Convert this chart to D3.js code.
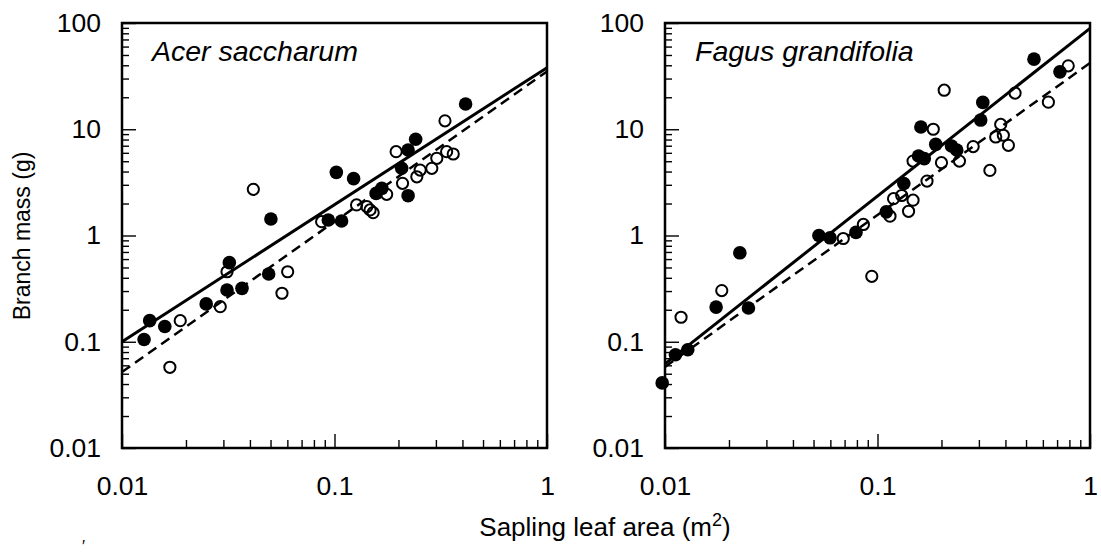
<!DOCTYPE html>
<html>
<head>
    <title>Branch mass vs sapling leaf area</title>
    <script src="https://d3js.org/d3.v7.min.js"></script>
    <style>
        body { margin: 0; background: #fff; }
        svg { display: block; font-family: "Liberation Sans", Arial, sans-serif; }
    </style>
</head>
<body>
    <svg id="chart" width="1101" height="554"></svg>

    <script>
        // ---- data (x = leaf area m2, y = branch mass g) ----
        const acerFilled = [
            [0.0127, 0.105], [0.0135, 0.158], [0.0159, 0.139], [0.0249, 0.227],
            [0.0312, 0.307], [0.032, 0.555], [0.0367, 0.318], [0.049, 0.434],
            [0.0502, 1.43], [0.0935, 1.40], [0.108, 1.37], [0.102, 3.93],
            [0.123, 3.43], [0.157, 2.49], [0.167, 2.78], [0.207, 4.29],
            [0.222, 2.37], [0.222, 6.38], [0.241, 8.04], [0.414, 17.3]
        ];
        const acerOpen = [
            [0.0168, 0.0575], [0.0188, 0.158], [0.029, 0.214], [0.0312, 0.456],
            [0.0566, 0.286], [0.0602, 0.456], [0.0415, 2.72], [0.087, 1.35],
            [0.127, 1.94], [0.142, 1.87], [0.147, 1.74], [0.152, 1.64],
            [0.176, 2.44], [0.195, 6.15], [0.209, 3.10], [0.244, 3.57],
            [0.253, 4.13], [0.287, 4.29], [0.303, 5.33], [0.337, 6.15],
            [0.362, 5.85], [0.331, 12.0]
        ];
        const fagusFilled = [
            [0.0097, 0.041], [0.0112, 0.0754], [0.0128, 0.0841], [0.0174, 0.212],
            [0.0225, 0.687], [0.0247, 0.208], [0.053, 1.0], [0.0598, 0.951],
            [0.0792, 1.07], [0.110, 1.67], [0.133, 3.09], [0.156, 5.6],
            [0.166, 5.29], [0.160, 10.5], [0.188, 7.2], [0.223, 6.95],
            [0.236, 6.38], [0.306, 12.2], [0.313, 17.9], [0.545, 45.7],
            [0.722, 34.7]
        ];
        const fagusOpen = [
            [0.0119, 0.17], [0.0185, 0.303], [0.069, 0.937], [0.0858, 1.27],
            [0.094, 0.413], [0.1145, 1.52], [0.119, 2.22], [0.130, 2.38],
            [0.147, 2.15], [0.140, 1.69], [0.171, 3.25], [0.206, 23.3],
            [0.183, 10.0], [0.147, 5.02], [0.200, 4.85], [0.243, 5.02],
            [0.282, 6.87], [0.338, 4.1], [0.38, 11.1], [0.36, 8.46],
            [0.391, 8.78], [0.413, 7.06], [0.444, 21.9], [0.637, 18.0],
            [0.79, 39.5]
        ];

        // fitted lines, given by their end points at x = 0.01 and x = 1
        const acerSolid = [[0.01, 0.1], [1, 38]];
        const acerDashed = [[0.01, 0.052], [1, 35]];
        const fagusSolid = [[0.01, 0.062], [1, 89]];
        const fagusDashed = [[0.01, 0.058], [1, 42]];

        const xMajor = [0.01, 0.1, 1];
        const xLabels = ["0.01", "0.1", "1"];
        const yMajor = [0.01, 0.1, 1, 10, 100];
        const yLabels = ["0.01", "0.1", "1", "10", "100"];

        const panels = [
            { name: "Acer saccharum", left: 122, filled: acerFilled, open: acerOpen, solid: acerSolid, dashed: acerDashed },
            { name: "Fagus grandifolia", left: 665, filled: fagusFilled, open: fagusOpen, solid: fagusSolid, dashed: fagusDashed }
        ];

        const svg = d3.select("#chart");
        const size = 425, panelTop = 23;

        function minorTicks(lo, hi) {
            const out = [];
            for (let e = lo; e < hi; e++)
                for (let k = 2; k <= 9; k++) out.push(k * Math.pow(10, e));
            return out;
        }

        panels.forEach(p => {
            const x = d3.scaleLog().domain([0.01, 1]).range([p.left, p.left + size]);
            const y = d3.scaleLog().domain([0.01, 100]).range([panelTop + size, panelTop]);
            const g = svg.append("g");

            // minor and major ticks, pointing inward
            g.append("g").attr("transform", `translate(${p.left},0)`)
                .call(d3.axisLeft(y).tickValues(minorTicks(-2, 2)).tickSize(-7).tickFormat(""));
            g.append("g").attr("transform", `translate(${p.left},0)`)
                .call(d3.axisLeft(y).tickValues(yMajor).tickSize(-14).tickPadding(21)
                    .tickFormat((d, i) => yLabels[i]));
            g.append("g").attr("transform", `translate(0,${panelTop + size})`)
                .call(d3.axisBottom(x).tickValues(minorTicks(-2, 0)).tickSize(-8).tickFormat(""));
            g.append("g").attr("transform", `translate(0,${panelTop + size})`)
                .call(d3.axisBottom(x).tickValues(xMajor).tickSize(-14).tickPadding(28)
                    .tickFormat((d, i) => xLabels[i]));

            g.selectAll(".domain").remove();
            g.selectAll(".tick line").attr("stroke", "#000").attr("stroke-width", 1.4);
            g.selectAll(".tick text").attr("fill", "#000").style("font-size", "26.5px");

            // frame
            g.append("rect")
                .attr("x", p.left).attr("y", panelTop)
                .attr("width", size).attr("height", size)
                .attr("fill", "none").attr("stroke", "#000").attr("stroke-width", 2.5);

            const line = d3.line().x(d => x(d[0])).y(d => y(d[1]));
            g.append("path").datum(p.solid).attr("d", line)
                .attr("fill", "none").attr("stroke", "#000").attr("stroke-width", 3);
            g.append("path").datum(p.dashed).attr("d", line)
                .attr("fill", "none").attr("stroke", "#000").attr("stroke-width", 2.5)
                .attr("stroke-dasharray", "10,6");

            g.selectAll(".open").data(p.open).enter().append("circle")
                .attr("cx", d => x(d[0])).attr("cy", d => y(d[1])).attr("r", 5.6)
                .attr("fill", "none").attr("stroke", "#000").attr("stroke-width", 2);
            g.selectAll(".filled").data(p.filled).enter().append("circle")
                .attr("cx", d => x(d[0])).attr("cy", d => y(d[1])).attr("r", 6.8)
                .attr("fill", "#000");

            g.append("text")
                .attr("x", p.left + 30).attr("y", panelTop + 38)
                .style("font-size", "28.5px").style("font-style", "italic")
                .text(p.name);
        });

        // axis titles
        svg.append("text")
            .attr("transform", "translate(30,236) rotate(-90)")
            .attr("text-anchor", "middle")
            .style("font-size", "23px")
            .text("Branch mass (g)");

        const xt = svg.append("text")
            .attr("x", 605).attr("y", 536)
            .attr("text-anchor", "middle")
            .style("font-size", "26px");
        xt.append("tspan").text("Sapling leaf area (m");
        xt.append("tspan").attr("dy", -10).style("font-size", "18px").text("2");
        xt.append("tspan").attr("dy", 10).text(")");

        svg.append("text").attr("x", 82).attr("y", 552)
            .style("font-size", "16px").text("′");
    </script>
</body>
</html>
